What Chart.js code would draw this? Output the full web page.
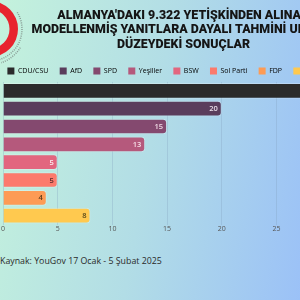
<!DOCTYPE html>
<html><head><meta charset="utf-8">
<script src="https://cdn.jsdelivr.net/npm/chart.js@4.4.1/dist/chart.umd.min.js"></script>
<style>
html,body{margin:0;padding:0;width:300px;height:300px;overflow:hidden;}
body{background:linear-gradient(100deg,#c4f2dc 0%,#b2dde6 50%,#9bc1f7 100%);position:relative;}
#wrap{position:absolute;left:0;top:0;width:364px;height:233px;}
#src{position:absolute;left:0;top:255px;font-size:8.8px;color:#2a2a2a;font-family:"Open Sans",sans-serif;white-space:nowrap;}
</style></head><body>
<div id="wrap"><canvas id="c" width="364" height="233"></canvas></div>
<div id="src">Kaynak: YouGov 17 Ocak - 5 Şubat 2025</div>
<script>
const categories = ['CDU/CSU','AfD','SPD','Yeşiller','BSW','Sol Parti','FDP','Diğerleri'];
const values = [30,20,15,13,5,5,4,8];
const titleLines = ["ALMANYA'DAKI 9.322 YETİŞKİNDEN ALINAN","MODELLENMİŞ YANITLARA DAYALI TAHMİNİ ULUSAL","DÜZEYDEKİ SONUÇLAR"];
const xTicks = [0,5,10,15,20,25,30];
const xMax = 33;

const barColors = ['#2b2b2b','#5a3d5c','#84496f','#b5597c','#e2667f','#fc7a6c','#fd9b55','#ffc94f'];
const labelColors = ['#ddd','#e8dde8','#f0dbe6','#f5dde6','#fff0f2','#5a2a2a','#5a3a1a','#5a4a1a'];

const logoPlugin = {
  id:'logo',
  afterInit(chart){
    const lg = chart.legend;
    const orig = lg.fit;
    lg.fit = function(){ orig.call(this); this.height -= 2.5; if(this.lineWidths && this.lineWidths.length) this.lineWidths[0] += 28; };
  },
  beforeDraw(chart){
    const ctx = chart.ctx;
    ctx.save();
    ctx.beginPath();
    ctx.arc(-10,29,28,0,Math.PI*2);
    ctx.arc(-10,29,19.5,0,Math.PI*2,true);
    ctx.fillStyle='#e8242e';
    ctx.fill('evenodd');
    ctx.strokeStyle='rgba(90,90,90,0.55)';
    ctx.setLineDash([1,1.2]);
    ctx.lineWidth=1.5;
    ctx.beginPath();
    ctx.arc(-10,29,32,-0.55,1.35);
    ctx.stroke();
    ctx.beginPath();
    ctx.arc(-10,29,35.5,0.55,1.25);
    ctx.stroke();
    ctx.restore();
  }
};

const valueLabels = {
  id:'valueLabels',
  afterDatasetsDraw(chart){
    const ctx = chart.ctx;
    const meta = chart.getDatasetMeta(0);
    ctx.save();
    ctx.font = '600 7.5px "Open Sans", sans-serif';
    ctx.textAlign='right';
    ctx.textBaseline='middle';
    meta.data.forEach((bar,i)=>{
      if(bar.x > 300) return;
      ctx.fillStyle = labelColors[i];
      ctx.fillText(String(values[i]), bar.x-4, bar.y+0.5);
    });
    ctx.restore();
  }
};

new Chart(document.getElementById('c'),{
  type:'bar',
  data:{labels:categories,datasets:[{data:values,backgroundColor:barColors,borderColor:'rgba(255,255,255,0.25)',borderWidth:1,borderRadius:4,borderSkipped:'start',categoryPercentage:1,barPercentage:0.88}]},
  options:{
    indexAxis:'y',
    responsive:false,
    animation:false,
    layout:{padding:{left:3,right:0,top:0,bottom:0}},
    plugins:{
      title:{display:true,text:titleLines,color:'#151515',font:{family:'Roboto',weight:'900',size:12.4},padding:{top:8,bottom:3.5},lineHeight:1.35},
      legend:{display:true,labels:{boxWidth:7,boxHeight:7,padding:11.3,color:'#444',font:{family:'Open Sans',size:7},
        generateLabels(chart){return categories.map((c,i)=>({text:c,fillStyle:barColors[i],strokeStyle:barColors[i],lineWidth:0,index:i,hidden:false}));}}},
      tooltip:{enabled:false}
    },
    scales:{
      y:{display:false},
      x:{min:0,max:xMax,afterBuildTicks(ax){ax.ticks=xTicks.map(v=>({value:v}));},
        border:{display:false},
        grid:{color:'rgba(130,160,190,0.3)',drawTicks:false},
        ticks:{color:'#555',font:{family:'Open Sans',size:7},padding:0}}
    }
  },
  plugins:[logoPlugin,valueLabels]
});
</script></body></html>
